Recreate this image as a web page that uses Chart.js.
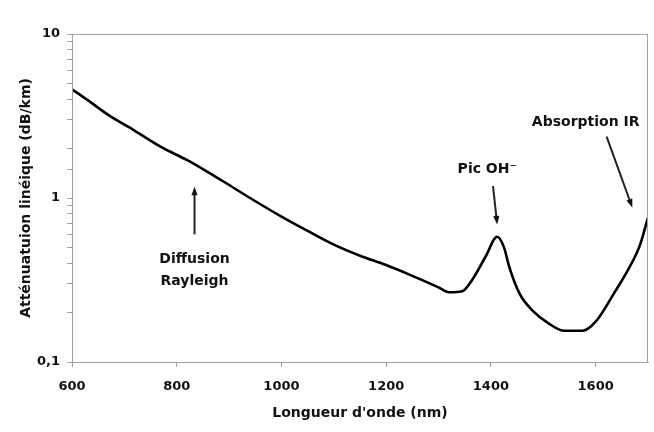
<!DOCTYPE html>
<html>
<head>
<meta charset="utf-8">
<script src="https://cdn.jsdelivr.net/npm/chart.js@4"></script>
<style>
  html, body { margin: 0; padding: 0; background: #fff; }
  #wrap { width: 654px; height: 432px; }
</style>
</head>
<body>
<div id="wrap"><canvas id="myChart" width="654" height="432"></canvas></div>
<script>
// wavelength (nm) and attenuation (dB/km)
const wavelengths = [600, 630, 670, 720, 770, 820, 850, 900, 940, 1000, 1050, 1100, 1150, 1200, 1250, 1300, 1320, 1345, 1365, 1390, 1412, 1425, 1435, 1455, 1480, 1510, 1540, 1575, 1600, 1635, 1665, 1685, 1700];
const attenuation = [4.6, 3.95, 3.2, 2.57, 2.05, 1.7, 1.5, 1.2, 1.0, 0.77, 0.63, 0.52, 0.445, 0.39, 0.335, 0.285, 0.266, 0.27, 0.32, 0.44, 0.58, 0.5, 0.38, 0.26, 0.205, 0.172, 0.155, 0.155, 0.176, 0.262, 0.38, 0.52, 0.76];
const xTickValues = [600, 800, 1000, 1200, 1400, 1600];
const yTickLabels = { 0.1: '0,1', 1: '1', 10: '10' };

const axisColor = '#a0a0a0';
const textColor = '#111';
const fontFamily = '"DejaVu Sans", "Liberation Sans", sans-serif';

// text notes with arrows, placed in data units
const notes = [
  { lines: ['Diffusion', 'Rayleigh'], at: [834, 0.425], lineGap: 22, arrow: [[834, 0.6], [834, 1.17]] },
  { lines: ['Pic OH\u207B'], at: [1393, 1.49], lineGap: 0, arrow: [[1404, 1.18], [1412, 0.69]] },
  { lines: ['Absorption IR'], at: [1581, 2.88], lineGap: 0, arrow: [[1621, 2.37], [1670, 0.875]] }
];

const drawArrow = (ctx, x1, y1, x2, y2) => {
  const ang = Math.atan2(y2 - y1, x2 - x1);
  const head = 9;
  ctx.beginPath();
  ctx.moveTo(x1, y1);
  ctx.lineTo(x2 - Math.cos(ang) * head * 0.8, y2 - Math.sin(ang) * head * 0.8);
  ctx.stroke();
  ctx.beginPath();
  ctx.moveTo(x2, y2);
  ctx.lineTo(x2 - head * Math.cos(ang - 0.35), y2 - head * Math.sin(ang - 0.35));
  ctx.lineTo(x2 - head * Math.cos(ang + 0.35), y2 - head * Math.sin(ang + 0.35));
  ctx.closePath();
  ctx.fill();
};

const frameAndNotes = {
  id: 'frameAndNotes',
  afterDraw: (chart) => {
    const { ctx, chartArea, scales } = chart;
    ctx.save();
    // grey frame round the plot area
    ctx.strokeStyle = axisColor;
    ctx.lineWidth = 1;
    ctx.strokeRect(chartArea.left + 0.5, chartArea.top + 0.5, chartArea.width - 1, chartArea.height);
    // notes
    ctx.fillStyle = textColor;
    ctx.strokeStyle = '#222';
    ctx.lineWidth = 2;
    ctx.font = 'bold 14px ' + fontFamily;
    ctx.textAlign = 'center';
    ctx.textBaseline = 'middle';
    notes.forEach((n) => {
      const tx = scales.x.getPixelForValue(n.at[0]);
      const ty = scales.y.getPixelForValue(n.at[1]);
      n.lines.forEach((line, i) => ctx.fillText(line, tx, ty + i * n.lineGap));
      const a = n.arrow;
      drawArrow(ctx,
        scales.x.getPixelForValue(a[0][0]), scales.y.getPixelForValue(a[0][1]),
        scales.x.getPixelForValue(a[1][0]), scales.y.getPixelForValue(a[1][1]));
    });
    ctx.restore();
  }
};

window.onload = () => {
  const points = wavelengths.map((w, i) => ({ x: w, y: attenuation[i] }));

  new Chart(document.getElementById('myChart'), {
    type: 'line',
    data: {
      datasets: [{
        data: points,
        borderColor: '#000',
        borderWidth: 2.6,
        pointRadius: 0,
        cubicInterpolationMode: 'monotone',
        fill: false
      }]
    },
    options: {
      responsive: false,
      animation: false,
      layout: { padding: { top: 34, right: 6, left: 0, bottom: 0 } },
      plugins: { legend: { display: false }, tooltip: { enabled: false } },
      scales: {
        x: {
          type: 'linear',
          min: 600,
          max: 1700,
          afterBuildTicks: (s) => { s.ticks = xTickValues.map((v) => ({ value: v })); },
          afterFit: (s) => { s.height = 70; },
          grid: { drawOnChartArea: false, color: axisColor, tickLength: 5 },
          border: { color: axisColor },
          ticks: {
            color: textColor,
            padding: 12,
            maxRotation: 0,
            font: { family: fontFamily, size: 13, weight: 'bold' },
            callback: (v) => String(v)
          },
          title: {
            display: true,
            text: "Longueur d'onde (nm)",
            color: textColor,
            padding: { top: 0, bottom: 10 },
            font: { family: fontFamily, size: 14, weight: 'bold' }
          }
        },
        y: {
          type: 'logarithmic',
          min: 0.1,
          max: 10,
          afterFit: (s) => { s.width = 72; },
          grid: { drawOnChartArea: false, color: axisColor, tickLength: 5 },
          border: { color: axisColor },
          ticks: {
            color: textColor,
            padding: 7,
            autoSkip: false,
            font: { family: fontFamily, size: 13, weight: 'bold' },
            callback: (v) => {
              const l = Math.log10(v);
              if (Math.abs(l - Math.round(l)) > 1e-6) return '';
              return yTickLabels[Math.pow(10, Math.round(l))] || '';
            }
          },
          title: {
            display: true,
            text: 'Atténuatuion linéique (dB/km)',
            color: textColor,
            padding: { top: 18, bottom: 0 },
            font: { family: fontFamily, size: 14, weight: 'bold' }
          }
        }
      }
    },
    plugins: [frameAndNotes]
  });
};
</script>
</body>
</html>
